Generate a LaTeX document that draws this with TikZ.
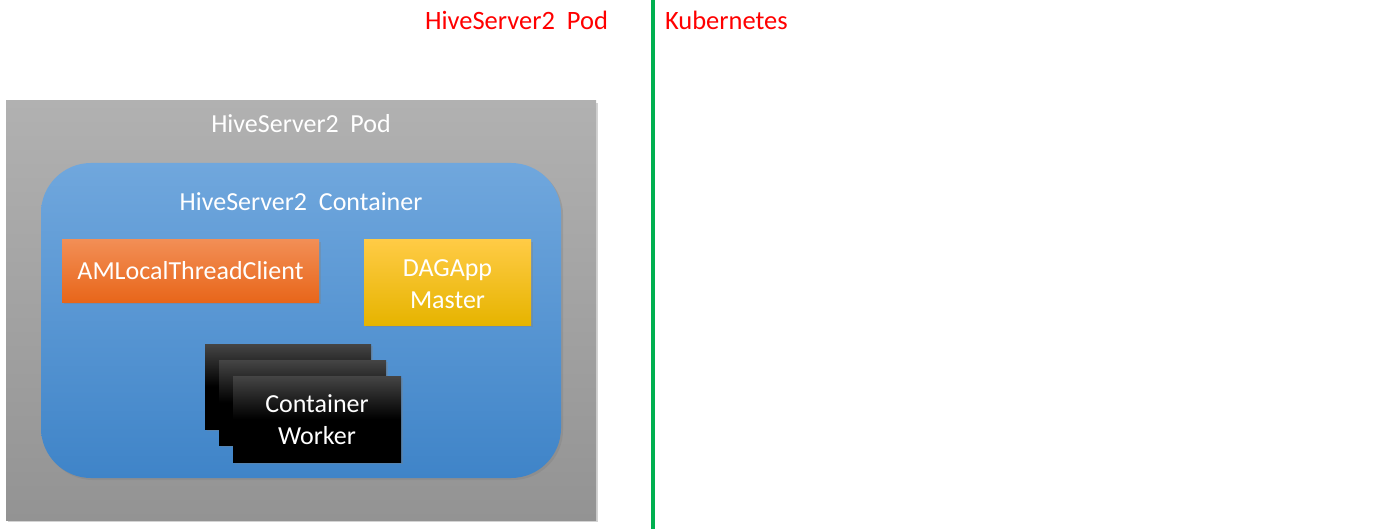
\documentclass[tikz,border=0pt]{standalone}
\usepackage{fontspec}
\setmainfont{Carlito}
\usetikzlibrary{shadows}
\definecolor{podtop}{HTML}{B1B1B1}
\definecolor{podbot}{HTML}{939393}
\definecolor{bluetop}{HTML}{70A7DD}
\definecolor{bluebot}{HTML}{3F84C8}
\definecolor{orgtop}{HTML}{F28E55}
\definecolor{orgbot}{HTML}{E8661A}
\definecolor{yeltop}{HTML}{FFCB45}
\definecolor{yelbot}{HTML}{E6B400}
\definecolor{blktop}{HTML}{454545}
\definecolor{sepgreen}{HTML}{00B050}
\definecolor{labred}{HTML}{FF0000}
\tikzset{
  every node/.style={inner sep=0pt, outer sep=0pt},
  podbox/.style={top color=podtop, bottom color=podbot, draw=none,
    drop shadow={shadow xshift=2pt, shadow yshift=-2pt, opacity=0.35}},
  contbox/.style={top color=bluetop, bottom color=bluebot, draw=none, rounded corners=50pt,
    drop shadow={shadow xshift=2pt, shadow yshift=-2pt, opacity=0.35}},
  orgbox/.style={top color=orgtop, bottom color=orgbot, draw=none,
    drop shadow={shadow xshift=2pt, shadow yshift=-2pt, opacity=0.35}},
  yelbox/.style={top color=yeltop, bottom color=yelbot, draw=none,
    drop shadow={shadow xshift=2pt, shadow yshift=-2pt, opacity=0.35}},
  wkbox/.style={draw=none, shading=axis, top color=blktop, bottom color=black, middle color=black,
    drop shadow={shadow xshift=2pt, shadow yshift=-2pt, opacity=0.35}},
  wtxt/.style={text=white, font=\fontsize{26}{31}\selectfont, align=center},
  rtxt/.style={text=labred, font=\fontsize{26.5}{31}\selectfont},
}
\begin{document}
\begin{tikzpicture}[x=1pt,y=-1pt]
\useasboundingbox (0,0) rectangle (1397,529);
% pod
\path[podbox] (6,101) rectangle (596,520);
\node[wtxt] (podt) at (301,124) {HiveServer2\ \ Pod};
% container
\path[contbox] (41,163) rectangle (561,478);
\node[wtxt] (contt) at (301,202) {HiveServer2\ \ Container};
% orange
\path[orgbox] (62,240) rectangle (319,302);
\node[wtxt] (am) at (190.5,271) {AMLocalThreadClient};
% yellow
\path[yelbox] (364,240) rectangle (531,325);
\node[wtxt] (dag) at (447.5,284) {DAGApp\\[1pt]Master};
% workers
\path[wkbox] (205,344) rectangle (371,429);
\path[wkbox] (219,360) rectangle (386,445);
\path[wkbox] (233,376) rectangle (401,462);
\node[wtxt] (wk) at (317,420) {Container\\[1pt]Worker};
% separator
\coordinate (st) at (653,0);
\coordinate (sb) at (653,529);
\draw[sepgreen, line width=4pt] (st) -- (sb);
\node[rtxt, anchor=east] (lp) at (608,20) {HiveServer2\ \ Pod};
\node[rtxt, anchor=west] (lk) at (665,20) {Kubernetes};
\end{tikzpicture}
\end{document}
